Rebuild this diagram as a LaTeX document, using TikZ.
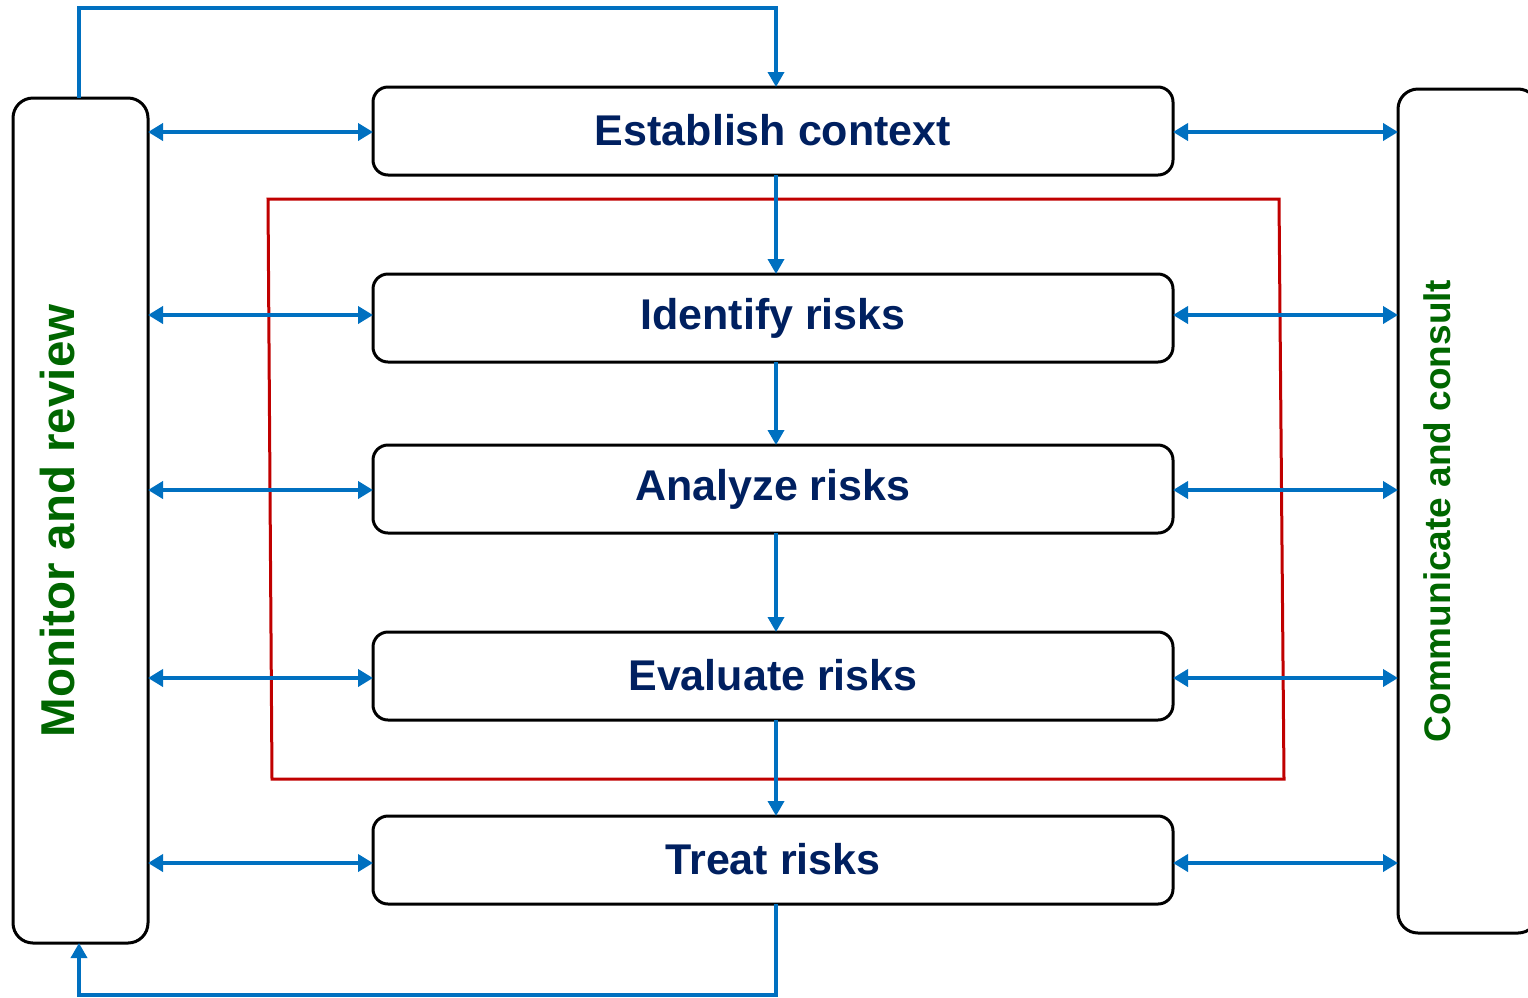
\documentclass[tikz,border=0pt]{standalone}
\usepackage{fontspec}
\setmainfont{Liberation Sans}
\usetikzlibrary{arrows.meta}
\definecolor{navy}{HTML}{002060}
\definecolor{dgreen}{HTML}{006600}
\definecolor{ablue}{HTML}{0070C0}
\definecolor{dred}{HTML}{C00000}
\begin{document}
\begin{tikzpicture}[x=1pt,y=-1pt,
  stepbox/.style={draw=black,line width=3pt,rounded corners=15pt,fill=white,
    minimum width=800pt,minimum height=88pt,inner sep=0pt,outer sep=0pt,
    font=\fontsize{43}{46}\selectfont\bfseries,text=navy},
  sidebox/.style={draw=black,line width=3pt,rounded corners=20pt,
    minimum width=135pt,minimum height=845pt,inner sep=0pt,outer sep=0pt},
  sidetext/.style={rotate=90,text=dgreen,inner sep=0pt},
  dbl/.style={draw=ablue,line width=4.5pt,{Triangle[length=15pt,width=17pt]}-{Triangle[length=15pt,width=17pt]}},
  arr/.style={draw=ablue,line width=3.5pt,-{Triangle[length=15pt,width=16pt]}},
  loop/.style={draw=ablue,line width=3.5pt,-{Triangle[length=15pt,width=16pt]}}
]
\useasboundingbox (0,0) rectangle (1528,997);
% red frame
\coordinate (r1) at (268,199);
\coordinate (r2) at (1279,199);
\coordinate (r3) at (1284,779);
\coordinate (r4) at (272,779);
\draw[dred,line width=3pt] (r1) -- (r2) -- (r3) -- (r4) -- cycle;
% side boxes
\node[sidebox] (L) at (80.5,520.5) {};
\node[sidebox,minimum width=140pt,minimum height=844pt] (R) at (1468,511) {};
\node[sidetext,font=\fontsize{47.5}{50}\selectfont\bfseries] (Lt) at (58,521) {Monitor and review};
\node[sidetext,font=\fontsize{37}{40}\selectfont\bfseries] (Rt) at (1437,511) {Communicate and consult};
% steps
\node[stepbox] (E) at (773,131) {\raisebox{3pt}{Establish context}};
\node[stepbox] (I) at (773,318) {\raisebox{3pt}{Identify risks}};
\node[stepbox] (A) at (773,489) {\raisebox{3pt}{Analyze risks}};
\node[stepbox] (V) at (773,676) {\raisebox{3pt}{Evaluate risks}};
\node[stepbox] (T) at (773,860) {\raisebox{3pt}{Treat risks}};
% horizontal double arrows
\foreach \n/\dy in {E/1,I/-3,A/1,V/2,T/3}{
  \draw[dbl] ([yshift=-\dy pt]L.east |- \n.west) -- ([yshift=-\dy pt]\n.west);
  \draw[dbl] ([yshift=-\dy pt]\n.east) -- ([yshift=-\dy pt]R.west |- \n.east);
}
% vertical arrows
\draw[arr] ([xshift=3pt]E.south) -- ([xshift=3pt]I.north);
\draw[arr] ([xshift=3pt]I.south) -- ([xshift=3pt]A.north);
\draw[arr] ([xshift=3pt]A.south) -- ([xshift=3pt]V.north);
\draw[arr] ([xshift=3pt]V.south) -- ([xshift=3pt]T.north);
% loops
\draw[loop] ([xshift=-1.5pt]L.north) -- ++(0,-90) -| ([xshift=3pt]E.north);
\draw[loop] ([xshift=3pt]T.south) -- ++(0,91) -| ([xshift=-1.5pt]L.south);
\end{tikzpicture}
\end{document}
